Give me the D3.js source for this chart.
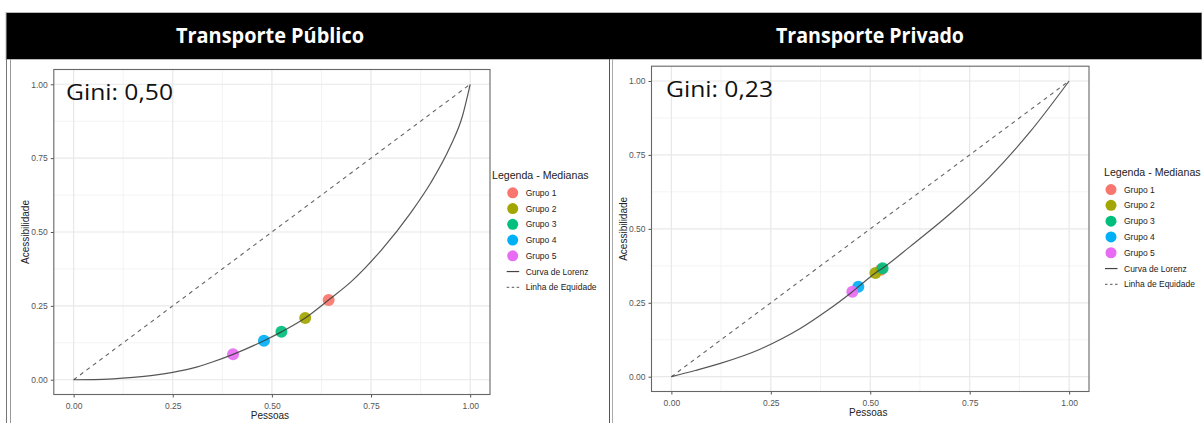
<!DOCTYPE html>
<html>
<head>
<meta charset="utf-8">
<script src="https://cdn.jsdelivr.net/npm/d3@7"></script>
<style>
  html, body { margin: 0; padding: 0; background: #fff; }
  svg { display: block; }
</style>
</head>
<body>
<svg id="chart" width="1202" height="423"></svg>
<script>
// ---------------- DATA ----------------
const categories = ["Grupo 1", "Grupo 2", "Grupo 3", "Grupo 4", "Grupo 5"];
const groupColors = ["#F8766D", "#A3A500", "#00BF7D", "#00B0F6", "#E76BF3"];
const panelTitles = ["Transporte Público", "Transporte Privado"];
const giniLabels = ["Gini: 0,50", "Gini: 0,23"];
const legendTitle = "Legenda - Medianas";
const lineLabels = ["Curva de Lorenz", "Linha de Equidade"];
const xTitle = "Pessoas";
const yTitle = "Acessibilidade";
const tickValues = [0, 0.25, 0.5, 0.75, 1];
const tickLabels = ["0.00", "0.25", "0.50", "0.75", "1.00"];
const minorTicks = [0.125, 0.375, 0.625, 0.875];

// medians (Pessoas, Acessibilidade) per group
const publicoX = [0.643, 0.584, 0.524, 0.480, 0.402];
const publicoY = [0.270, 0.209, 0.162, 0.132, 0.086];
const privadoX = [0.527, 0.513, 0.531, 0.470, 0.455];
const privadoY = [0.362, 0.351, 0.367, 0.304, 0.2875];

// Lorenz curves
const lorenzPublicoX = [0, 0.05, 0.1, 0.15, 0.2, 0.25, 0.3, 0.35, 0.402, 0.48, 0.524, 0.584, 0.643, 0.7, 0.776, 0.85, 0.9, 0.95, 0.98, 1];
const lorenzPublicoY = [0, 0.0005, 0.003, 0.008, 0.015, 0.025, 0.039, 0.06, 0.086, 0.132, 0.162, 0.209, 0.27, 0.332, 0.439, 0.565, 0.665, 0.79, 0.89, 1];
const lorenzPrivadoX = [0, 0.06, 0.123, 0.223, 0.28, 0.324, 0.39, 0.455, 0.47, 0.513, 0.531, 0.6, 0.7, 0.8, 0.9, 1];
const lorenzPrivadoY = [0, 0.021, 0.045, 0.093, 0.13, 0.163, 0.222, 0.2875, 0.304, 0.351, 0.367, 0.44, 0.55, 0.675, 0.825, 1];

// ---------------- LAYOUT ----------------
const svg = d3.select("#chart");

// header bar
svg.append("rect").attr("x", 6).attr("y", 12.5).attr("width", 1196).attr("height", 47)
  .attr("fill", "#000").attr("stroke", "#bbb").attr("stroke-width", 1);

// frame lines
[[6.5, "#777"], [10.5, "#999"], [609.5, "#555"], [612.5, "#aaa"]].forEach(([x, c]) => {
  svg.append("line").attr("x1", x).attr("x2", x).attr("y1", 59).attr("y2", 423)
    .attr("stroke", c).attr("stroke-width", 1);
});

const panels = [
  {
    title: panelTitles[0], titleX: 270, gini: giniLabels[0], giniX: 66, giniY: 100,
    xr: [53.8, 490], yr: [394.5, 69.5], ytitleX: 25,
    px: publicoX, py: publicoY, lx: lorenzPublicoX, ly: lorenzPublicoY,
    legX: 492, legY: 175, keyX: 512.7, textX: 525.7, legStep: 15.75
  },
  {
    title: panelTitles[1], titleX: 870, gini: giniLabels[1], giniX: 666, giniY: 97,
    xr: [651.5, 1089], yr: [391.5, 66.2], ytitleX: 623,
    px: privadoX, py: privadoY, lx: lorenzPrivadoX, ly: lorenzPrivadoY,
    legX: 1104, legY: 171.7, keyX: 1111, textX: 1124, legStep: 15.8
  }
];

panels.forEach(p => {
  // title
  svg.append("text").attr("x", p.titleX).attr("y", 43).attr("text-anchor", "middle")
    .attr("fill", "#fff").attr("font-family", "'Open Sans', sans-serif").attr("font-weight", 700)
    .attr("font-size", 22).attr("textLength", 188).attr("lengthAdjust", "spacingAndGlyphs")
    .text(p.title);

  const x = d3.scaleLinear().domain([-0.05, 1.05]).range(p.xr);
  const y = d3.scaleLinear().domain([-0.05, 1.05]).range(p.yr);
  const g = svg.append("g");

  // panel background
  g.append("rect").attr("x", p.xr[0]).attr("y", p.yr[1])
    .attr("width", p.xr[1] - p.xr[0]).attr("height", p.yr[0] - p.yr[1]).attr("fill", "#fff");

  // minor grid
  minorTicks.forEach(t => {
    g.append("line").attr("x1", x(t)).attr("x2", x(t)).attr("y1", p.yr[1]).attr("y2", p.yr[0])
      .attr("stroke", "#f3f3f3").attr("stroke-width", 1);
    g.append("line").attr("y1", y(t)).attr("y2", y(t)).attr("x1", p.xr[0]).attr("x2", p.xr[1])
      .attr("stroke", "#f3f3f3").attr("stroke-width", 1);
  });
  // major grid
  tickValues.forEach(t => {
    g.append("line").attr("x1", x(t)).attr("x2", x(t)).attr("y1", p.yr[1]).attr("y2", p.yr[0])
      .attr("stroke", "#e8e8e8").attr("stroke-width", 1.2);
    g.append("line").attr("y1", y(t)).attr("y2", y(t)).attr("x1", p.xr[0]).attr("x2", p.xr[1])
      .attr("stroke", "#e8e8e8").attr("stroke-width", 1.2);
  });

  // axes
  const fmt = d => tickLabels[tickValues.indexOf(d)];
  const xAxis = g.append("g").attr("transform", `translate(0,${p.yr[0]})`)
    .call(d3.axisBottom(x).tickValues(tickValues).tickFormat(fmt).tickSize(3).tickPadding(5));
  const yAxis = g.append("g").attr("transform", `translate(${p.xr[0]},0)`)
    .call(d3.axisLeft(y).tickValues(tickValues).tickFormat(fmt).tickSize(3).tickPadding(3));
  [xAxis, yAxis].forEach(a => {
    a.select(".domain").remove();
    a.selectAll(".tick line").attr("stroke", "#555");
    a.selectAll(".tick text").attr("fill", "#555").attr("font-family", "'Liberation Sans', Arial, sans-serif")
      .attr("font-size", 8.5);
  });

  // equality line
  const line = d3.line().x(d => x(d[0])).y(d => y(d[1]));
  g.append("path").datum([[0, 0], [1, 1]]).attr("d", line).attr("fill", "none")
    .attr("stroke", "#666").attr("stroke-width", 1.1).attr("stroke-dasharray", "4,4");

  // median points
  const pts = categories.map((c, i) => ({ c, x: p.px[i], y: p.py[i], col: groupColors[i] }));
  g.selectAll("circle.pt").data(pts).enter().append("circle").attr("class", "pt")
    .attr("cx", d => x(d.x)).attr("cy", d => y(d.y)).attr("r", 6)
    .attr("fill", d => d.col).attr("fill-opacity", 0.92);

  // Lorenz curve
  const lz = p.lx.map((v, i) => [v, p.ly[i]]);
  g.append("path").datum(lz).attr("d", line.curve(d3.curveMonotoneX)).attr("fill", "none")
    .attr("stroke", "#3a3a3a").attr("stroke-width", 1.2).attr("stroke-opacity", 0.85);

  // panel border
  g.append("rect").attr("x", p.xr[0]).attr("y", p.yr[1])
    .attr("width", p.xr[1] - p.xr[0]).attr("height", p.yr[0] - p.yr[1])
    .attr("fill", "none").attr("stroke", "#666").attr("stroke-width", 1.1);

  // axis titles
  g.append("text").attr("x", (p.xr[0] + p.xr[1]) / 2 - 2).attr("y", p.yr[0] + 24)
    .attr("text-anchor", "middle").attr("font-family", "'Liberation Sans', Arial, sans-serif")
    .attr("font-size", 10).attr("fill", "#222").text(xTitle);
  g.append("text").attr("transform", `translate(${p.ytitleX},${(p.yr[0] + p.yr[1]) / 2}) rotate(-90)`)
    .attr("text-anchor", "middle").attr("dominant-baseline", "central")
    .attr("font-family", "'Liberation Sans', Arial, sans-serif").attr("font-size", 10)
    .attr("fill", "#222").text(yTitle);

  // Gini label
  g.append("text").attr("x", p.giniX).attr("y", p.giniY)
    .attr("font-family", "'Open Sans', sans-serif").attr("font-size", 22).attr("fill", "#111")
    .attr("textLength", 107).attr("lengthAdjust", "spacingAndGlyphs").text(p.gini);

  // legend
  const lg = svg.append("g");
  lg.append("text").attr("x", p.legX).attr("y", p.legY).attr("dominant-baseline", "central")
    .attr("font-family", "'Liberation Sans', Arial, sans-serif").attr("font-size", 10.6)
    .attr("fill", "#222").text(legendTitle);
  categories.forEach((c, i) => {
    const cy = p.legY + p.legStep * (i + 1.13);
    lg.append("circle").attr("cx", p.keyX).attr("cy", cy).attr("r", 5.5).attr("fill", groupColors[i]);
    lg.append("text").attr("x", p.textX).attr("y", cy).attr("dominant-baseline", "central")
      .attr("font-family", "'Liberation Sans', Arial, sans-serif").attr("font-size", 8.5)
      .attr("fill", "#222").text(c);
  });
  lineLabels.forEach((c, i) => {
    const cy = p.legY + p.legStep * (i + 6.13);
    lg.append("line").attr("x1", p.keyX - 6).attr("x2", p.keyX + 6.5).attr("y1", cy).attr("y2", cy)
      .attr("stroke", i === 0 ? "#444" : "#777").attr("stroke-width", 1.2)
      .attr("stroke-dasharray", i === 0 ? null : "2.5,2.5");
    lg.append("text").attr("x", p.textX).attr("y", cy).attr("dominant-baseline", "central")
      .attr("font-family", "'Liberation Sans', Arial, sans-serif").attr("font-size", 8.5)
      .attr("fill", "#222").text(c);
  });
});
</script>
</body>
</html>
